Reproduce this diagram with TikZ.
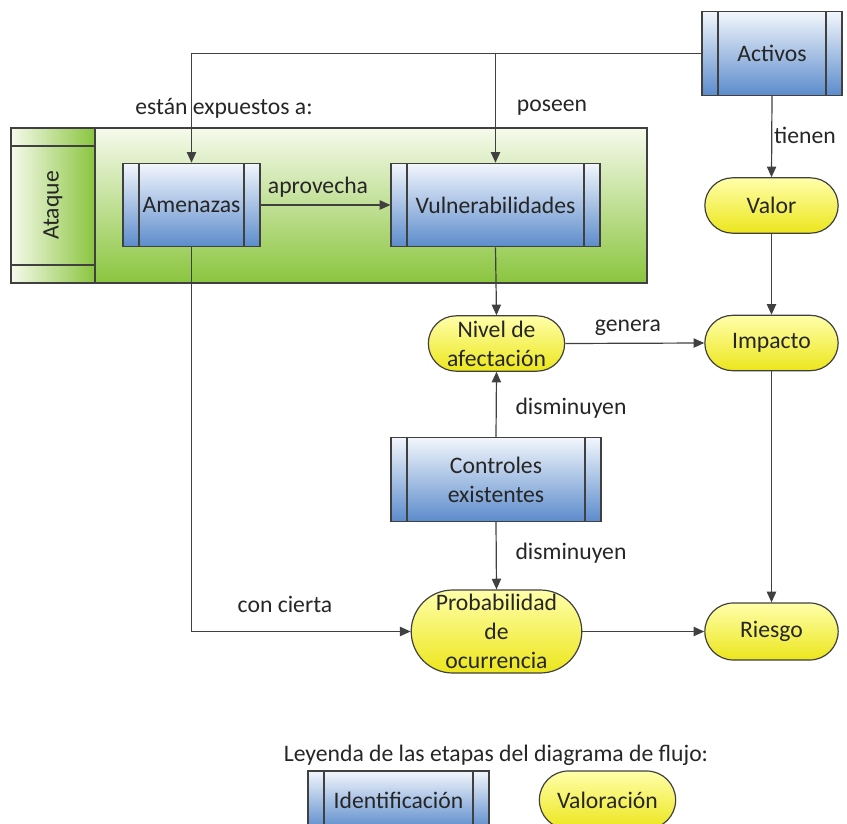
\documentclass[tikz,border=0pt]{standalone}
\usepackage{fontspec}
\setmainfont{Carlito}
\usetikzlibrary{arrows.meta,shapes.misc}
\definecolor{lnclr}{RGB}{64,64,64}
\definecolor{txclr}{RGB}{38,38,38}
\definecolor{bluetop}{RGB}{242,246,252}
\definecolor{bluebot}{RGB}{92,140,204}
\definecolor{yeltop}{RGB}{255,255,170}
\definecolor{yelbot}{RGB}{236,230,28}
\definecolor{grntop}{RGB}{246,250,236}
\definecolor{grnbot}{RGB}{138,197,62}

\begin{document}
\begin{tikzpicture}[x=0.75pt,y=0.75pt,yscale=-1,xscale=1,
  every node/.style={font=\fontsize{17.75}{21.75}\selectfont, text=txclr},
  idbox/.style={rectangle, draw=lnclr, line width=0.9pt,
    top color=bluetop, bottom color=bluebot,
    align=center, minimum height=62.5pt,
    path picture={\draw[line width=0.9pt, lnclr]
      ([xshift=12pt]path picture bounding box.north west) -- ([xshift=12pt]path picture bounding box.south west)
      ([xshift=-12pt]path picture bounding box.north east) -- ([xshift=-12pt]path picture bounding box.south east);}},
  valbox/.style={rounded rectangle, draw=lnclr, line width=0.9pt,
    top color=yeltop, bottom color=yelbot,
    align=center, minimum width=102pt, minimum height=41.5pt, inner sep=1pt},
  arr/.style={draw=lnclr, line width=0.9pt, -{Triangle[length=8pt,width=7pt]}},
  lnk/.style={draw=lnclr, line width=0.9pt}
]
\useasboundingbox (0,0) rectangle (847,824);
\clip (0,0) rectangle (847,824);

%Shape: Rectangle [id:ataque group]
\draw [lnk, top color=grntop, bottom color=grnbot] (95,128) -- (647,128) -- (647,283) -- (95,283) -- cycle ;
%Shape: Rectangle [id:ataque label]
\draw [lnk, left color=grntop, right color=grnbot] (11,128) -- (95,128) -- (95,283) -- (11,283) -- cycle ;
\draw [lnk] (11,146) -- (95,146) (11,265) -- (95,265) ;
% Text Node
\node (ataque) at (53,205.5) [rotate=90] {Ataque};

% Identificacion
\node (act) at (772,53.5) [idbox, minimum width=105pt] {Activos};
\node (ame) at (191.5,205) [idbox, minimum width=102.75pt] {Amenazas};
\node (vul) at (495.5,205) [idbox, minimum width=156.75pt] {Vulnerabilidades};
\node (ctl) at (496,479.5) [idbox, minimum width=157.5pt] {Controles\\existentes};

% Valoracion
\node (val) at (771.5,205.5) [valbox] {Valor};
\node (imp) at (771.5,343) [valbox] {Impacto};
\node (niv) at (496.5,343.5) [valbox, minimum width=104.25pt] {Nivel de\\afectación};
\node (pro) at (496.5,631.5) [valbox, minimum width=125.25pt, minimum height=62.25pt] {Probabilidad\\de\\ocurrencia};
\node (rie) at (771.5,631.5) [valbox, minimum height=42.75pt] {Riesgo};

% Connectors
\draw [arr] (act.west) -| (ame.north) ;
\draw [arr] (act.west -| vul.north) -- (vul.north) ;
\draw [arr] (act.south) -- (val.north) ;
\draw [arr] (ame.east) -- (vul.west) ;
\draw [arr] (vul.south) -- (niv.north) ;
\draw [arr] (val.south) -- (imp.north) ;
\draw [arr] (niv.east) -- (imp.west) ;
\draw [arr] (ctl.north) -- (niv.south) ;
\draw [arr] (ctl.south) -- (pro.north) ;
\draw [arr] (ame.south) |- (pro.west) ;
\draw [arr] (pro.east) -- (rie.west) ;
\draw [arr] (imp.south) -- (rie.north) ;

% Text Node
\node (lexp) at (224,108) {están expuestos a:};
\node (lpos) at (552,108) {poseen};
\node (ltie) at (805,135) {tienen};
\node (lapr) at (318,187) {aprovecha};
\node (lgen) at (628,328) {genera};
\node (ldis) at (571,408) {disminuyen};
\node (ldisb) at (571,553) {disminuyen};
\node (lcon) at (285,604) {con cierta};

% Leyenda
\node (ley) at (496,755) {Leyenda de las etapas del diagrama de flujo:};
\node (lid) at (398.5,800) [idbox, minimum width=135.75pt, minimum height=43.5pt] {Identificación};
\node (lva) at (607.5,800) [valbox, minimum width=104.25pt, minimum height=43.5pt] {Valoración};

\end{tikzpicture}
\end{document}
